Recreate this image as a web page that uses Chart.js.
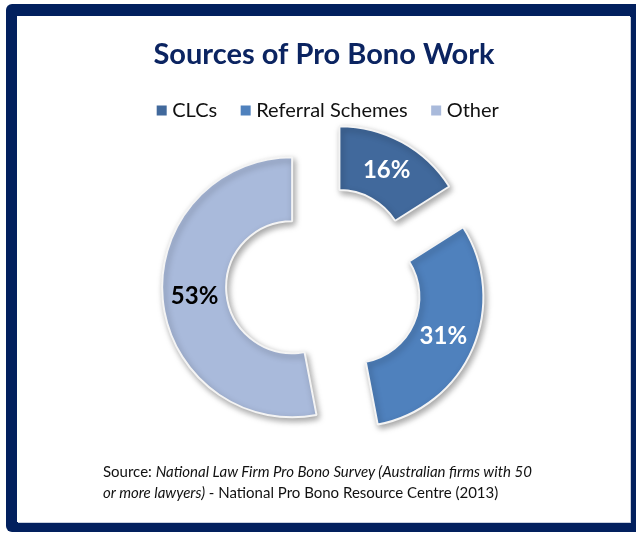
<!DOCTYPE html>
<html>
<head>
<meta charset="utf-8">
<script src="https://cdn.jsdelivr.net/npm/chart.js@4.4.1/dist/chart.umd.min.js"></script>
<style>
  html, body { margin: 0; padding: 0; background: #ffffff; overflow: hidden; }
  #frame {
    position: absolute; left: 6px; top: 4px; width: 640px; height: 528px;
    background: #02205e; border-radius: 6px;
  }
  #panel {
    position: absolute; left: 17px; top: 16px; width: 613px; height: 506px;
    background: #ffffff; box-shadow: 1px 1px 0 #c9d0de;
  }
  #chart { position: absolute; left: 0; top: 0; }
  #source {
    position: absolute; left: 103px; top: 461px;
    font-family: Lato, sans-serif; font-size: 15px; line-height: 21px; color: #111111;
  }
</style>
</head>
<body>
<div id="frame"></div>
<div id="panel"></div>
<canvas id="chart" width="636" height="533"></canvas>
<div id="source">Source: <i>National Law Firm Pro Bono Survey (Australian firms with 50<br>or more lawyers)</i> - National Pro Bono Resource Centre (2013)</div>
<script>
const categories = ['CLCs', 'Referral Schemes', 'Other'];
const shares = [16, 31, 53];
const sliceColours = ['#41699c', '#4f81bd', '#a9badb'];
const labelColours = ['#ffffff', '#ffffff', '#000000'];

const GAP = 32; // how far each slice is pulled out from the centre

// draws each arc pushed out along its middle angle, with a soft drop shadow
const explodeSlices = {
  id: 'explodeSlices',
  beforeDatasetDraw(chart, args) {
    const ctx = chart.ctx;
    args.meta.data.forEach(arc => {
      const mid = (arc.startAngle + arc.endAngle) / 2;
      ctx.save();
      ctx.shadowColor = 'rgba(0,0,0,0.35)';
      ctx.shadowBlur = 6;
      ctx.shadowOffsetX = 2;
      ctx.shadowOffsetY = 3;
      ctx.translate(Math.cos(mid) * GAP, Math.sin(mid) * GAP);
      arc.draw(ctx);
      ctx.restore();
    });
    return false;
  }
};

// percentage text in the middle of each ring piece
const sliceLabels = {
  id: 'sliceLabels',
  afterDatasetsDraw(chart) {
    const ctx = chart.ctx;
    const meta = chart.getDatasetMeta(0);
    ctx.save();
    ctx.font = 'bold 24px Lato, sans-serif';
    ctx.textAlign = 'center';
    ctx.textBaseline = 'middle';
    meta.data.forEach((arc, i) => {
      const mid = (arc.startAngle + arc.endAngle) / 2;
      const r = GAP + (arc.innerRadius + arc.outerRadius) / 2;
      ctx.fillStyle = labelColours[i];
      ctx.fillText(shares[i] + '%', arc.x + Math.cos(mid) * r, arc.y + Math.sin(mid) * r);
    });
    ctx.restore();
  }
};

// nudge the legend row a little to the right of the ring's centre line
const legendNudge = {
  id: 'legendNudge',
  afterLayout(chart) {
    chart.legend.left += 6;
    chart.legend.right += 6;
  }
};

// legend squares are plain fills, without the slice outline
const defaultLabels = Chart.overrides.doughnut.plugins.legend.labels.generateLabels;

new Chart(document.getElementById('chart'), {
  type: 'doughnut',
  data: {
    labels: categories,
    datasets: [{
      data: shares,
      backgroundColor: sliceColours,
      borderColor: '#f4f4f4',
      borderWidth: 2
    }]
  },
  options: {
    responsive: false,
    animation: false,
    radius: 130,
    cutout: '50.8%',
    layout: { padding: { left: 12, right: 0, top: 0, bottom: 95 } },
    plugins: {
      title: {
        display: true,
        text: 'Sources of Pro Bono Work',
        color: '#0b2461',
        font: { family: 'Lato', size: 29, weight: 'bold' },
        padding: { top: 37, bottom: 0.6 }
      },
      legend: {
        position: 'top',
        labels: {
          usePointStyle: true,
          pointStyle: 'rect',
          boxWidth: 1,
          boxHeight: 10,
          padding: 28,
          color: '#111111',
          font: { family: 'Lato', size: 20 },
          generateLabels(chart) {
            return defaultLabels(chart).map(item => Object.assign(item, { lineWidth: 0 }));
          }
        }
      },
      tooltip: { enabled: false }
    }
  },
  plugins: [explodeSlices, sliceLabels, legendNudge]
});
</script>
</body>
</html>
